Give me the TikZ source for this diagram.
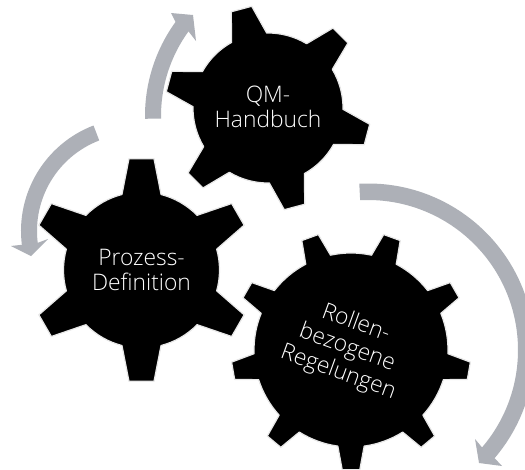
\documentclass[tikz,border=0pt]{standalone}
\usepackage{fontspec}
\setmainfont{Open Sans Light}
\definecolor{halo}{HTML}{E8E8E8}
\definecolor{sweep}{HTML}{ADB0B7}
\tikzset{
  gearshape/.style={fill=black,draw=halo,line width=1.2pt,line join=round},
  sweeparrow/.style={fill=sweep,draw=none},
  gearlabel/.style={text=white,align=center,font=\fontsize{22.8}{25}\selectfont,inner sep=0pt}
}
% #1 centre, #2 teeth, #3 first tooth angle, #4 root radius, #5 tip radius, #6 half base angle, #7 half tip angle
\newcommand{\gearat}[7]{%
  \pgfmathsetmacro{\gstep}{360/#2}%
  \pgfmathsetmacro{\glast}{#3+(#2-1)*\gstep}%
  \pgfmathsetmacro{\gsecond}{#3+\gstep}%
  \path[gearshape,shift={#1}] ({#3-#6}:#4)
    \foreach \ga in {#3,\gsecond,...,\glast} {
      -- ({\ga-#7}:#5) -- ({\ga+#7}:#5) -- ({\ga+#6}:#4)
      arc[start angle={\ga+#6},end angle={\ga+\gstep-#6},radius=#4]
    } -- cycle;%
}
\begin{document}
\begin{tikzpicture}[x=1pt,y=1pt]
\useasboundingbox (0,0) rectangle (525,-469);
\clip (0,0) rectangle (525,-469);
\fill[white] (0,0) rectangle (525,-469);
% arrows
\fill[sweeparrow] ([shift={(305,-116)}]181:160) arc[start angle=181,end angle=144,radius=160]
  -- (171,-13) -- (193,-15) -- (196,-41)
  -- ([shift={(305,-116)}]144:144) arc[start angle=144,end angle=181,radius=144] -- cycle;
\fill[sweeparrow] ([shift={(134,-231)}]111:113) arc[start angle=111,end angle=187,radius=113]
  -- (11,-246) -- (31,-256) -- (48,-239)
  -- ([shift={(134,-231)}]187:97) arc[start angle=187,end angle=111,radius=97] -- cycle;
\fill[sweeparrow] ([shift={(368,-350)}]93:166.5) arc[start angle=93,end angle=-40.5,radius=166.5]
  -- (502,-466) -- (479,-463) -- (475,-439)
  -- ([shift={(368,-350)}]-40.5:150) arc[start angle=-40.5,end angle=93,radius=150] -- cycle;
% gears
\gearat{(268,-108)}{6}{45}{75}{103}{14}{5.9}
\gearat{(141.5,-270)}{6}{30}{78}{112}{14.5}{6.4}
\gearat{(351,-350)}{9}{30}{97}{120}{7.8}{4.2}
% labels
\node[gearlabel] (qm) at (268,-107) {QM-\\Handbuch};
\node[gearlabel] (pd) at (141.5,-270) {Prozess-\\Definition};
\node[gearlabel,rotate=-20] (rr) at (347,-348) {Rollen-\\[1pt]bezogene\\[1pt]Regelungen};
\end{tikzpicture}
\end{document}
